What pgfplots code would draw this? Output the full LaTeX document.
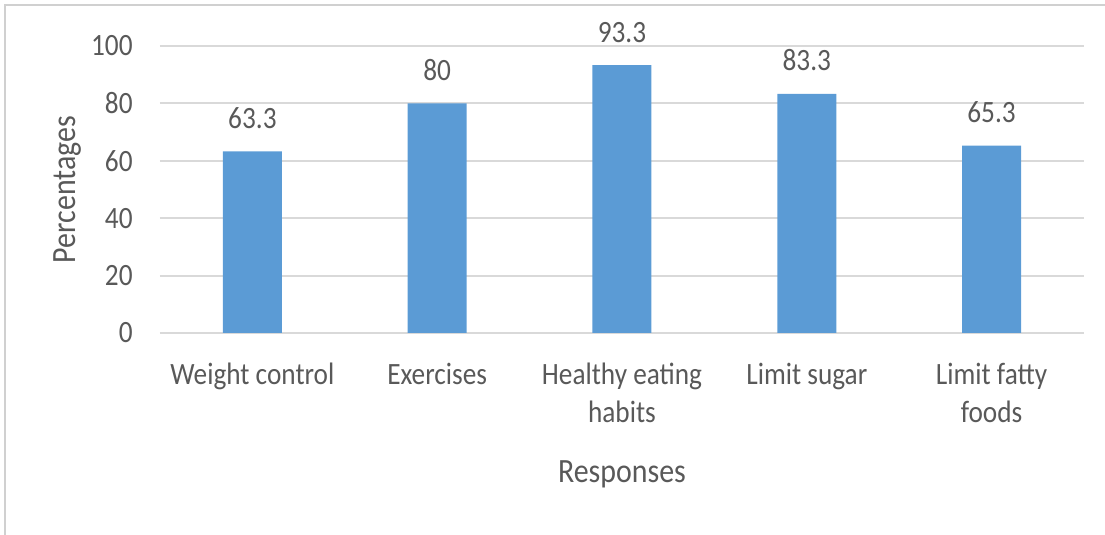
\documentclass[border=0pt]{standalone}
\usepackage{fontspec}
\setmainfont[FakeStretch=0.88]{Carlito}
\usepackage{pgfplots}
\pgfplotsset{compat=1.18}
\definecolor{barblue}{HTML}{5B9BD5}
\definecolor{gridgray}{HTML}{D9D9D9}
\definecolor{textgray}{HTML}{595959}
\definecolor{framegray}{HTML}{D0D0D0}

\begin{document}
\begin{tikzpicture}
\useasboundingbox (0,0) rectangle (552.5pt,267.5pt);
% chart frame
\draw[framegray, line width=1pt] (2.5pt,0) -- (2.5pt,265pt) -- (552.5pt,265pt);
\begin{axis}[
  at={(80pt,101pt)}, anchor=south west,
  scale only axis, width=462pt, height=143.5pt,
  xmin=-0.5, xmax=4.5, ymin=0, ymax=100,
  clip=false,
  ybar, bar width=29.5pt,
  xtick=data,
  xticklabels={Weight control, Exercises, {Healthy eating\\habits}, Limit sugar, {Limit fatty\\foods}},
  ytick={0,20,...,100},
  ymajorgrids, grid style={gridgray, line width=1pt},
  axis line style={draw=none}, major tick length=0pt,
  tick label style={font=\fontsize{15.5}{19}\selectfont, text=textgray},
  /pgf/number format/assume math mode=true,
  xticklabel style={anchor=north, inner sep=0pt, yshift=-15pt, align=center},
  yticklabel style={anchor=east, inner sep=0pt, xshift=-13.5pt},
  nodes near coords,
  nodes near coords style={font=\fontsize{15.5}{19}\selectfont, text=textgray, anchor=base, inner sep=0pt, yshift=11.5pt},
  xlabel={Responses}, ylabel={Percentages},
  label style={font=\fontsize{17}{20}\selectfont, text=textgray},
  xlabel style={at={(axis description cs:0.5,-0.522)}, anchor=base},
  ylabel style={at={(axis description cs:-0.0915,0.5)}, anchor=base},
]
\addplot[fill=barblue, draw=none] coordinates {(0,63.3) (1,80) (2,93.3) (3,83.3) (4,65.3)};
\end{axis}
\end{tikzpicture}
\end{document}
